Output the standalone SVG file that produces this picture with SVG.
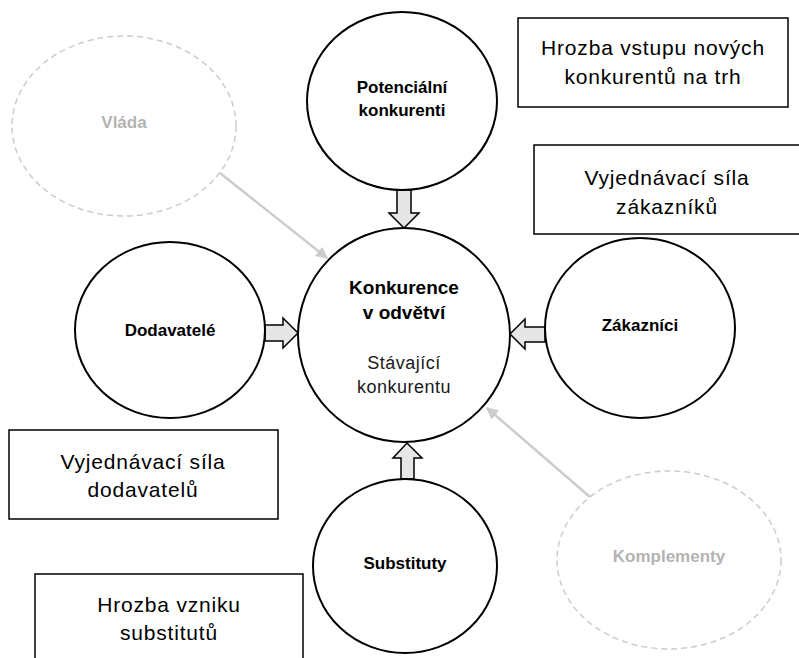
<svg xmlns="http://www.w3.org/2000/svg" width="799" height="658" viewBox="0 0 799 658">
  <style>
    .node { fill: #ffffff; stroke: #000000; stroke-width: 2; }
    .ghost { fill: #ffffff; stroke: #cccccc; stroke-width: 1.5; stroke-dasharray: 6 4; }
    .box { fill: #ffffff; stroke: #000000; stroke-width: 1.5; }
    .block { fill: #e6e6e6; stroke: #000000; stroke-width: 1.5; stroke-linejoin: miter; }
    .thin { stroke: #cccccc; stroke-width: 2.5; fill: none; }
    .lbl { font-family: "Liberation Sans", Arial, sans-serif; font-weight: bold; font-size: 17px; fill: #000000; text-anchor: middle; }
    .lbl-main { font-family: "Liberation Sans", Arial, sans-serif; font-weight: bold; font-size: 19px; fill: #000000; text-anchor: middle; }
    .lbl-ghost { font-family: "Liberation Sans", Arial, sans-serif; font-weight: bold; font-size: 17px; fill: #b3b3b3; text-anchor: middle; }
    .sub { font-family: "Liberation Sans", Arial, sans-serif; font-size: 18px; fill: #1a1a1a; text-anchor: middle; letter-spacing: 0.5px; }
    .note { font-family: "Liberation Sans", Arial, sans-serif; font-size: 21px; fill: #000000; text-anchor: middle; letter-spacing: 0.8px; }
  </style>
  <defs>
    <marker id="tip-grey" viewBox="0 0 10 10" refX="9" refY="5" markerWidth="12" markerHeight="12" markerUnits="userSpaceOnUse" orient="auto">
      <path d="M0,0 L10,5 L0,10 Z" fill="#cccccc"/>
    </marker>
  </defs>

  <!-- text boxes -->
  <g id="box-entry">
    <rect class="box" x="518" y="18" width="270" height="89"/>
    <text class="note" x="653" y="55">Hrozba vstupu nových</text>
    <text class="note" x="653" y="84">konkurentů na trh</text>
  </g>
  <g id="box-buyers">
    <rect class="box" x="534" y="145" width="270" height="89"/>
    <text class="note" x="667" y="185">Vyjednávací síla</text>
    <text class="note" x="667" y="214">zákazníků</text>
  </g>
  <g id="box-suppliers">
    <rect class="box" x="9" y="430" width="269" height="89"/>
    <text class="note" x="143" y="469">Vyjednávací síla</text>
    <text class="note" x="143" y="497">dodavatelů</text>
  </g>
  <g id="box-substitutes">
    <rect class="box" x="35" y="574" width="268" height="100"/>
    <text class="note" x="169" y="612">Hrozba vzniku</text>
    <text class="note" x="169" y="640">substitutů</text>
  </g>

  <!-- connectors -->
  <g id="connectors">
    <line class="thin" x1="220" y1="173" x2="327" y2="258" marker-end="url(#tip-grey)"/>
    <line class="thin" x1="590" y1="497" x2="487" y2="408" marker-end="url(#tip-grey)"/>
    <polygon class="block" points="397,190 411,190 411,213 419,213 404,228 389,213 397,213"/>
    <polygon class="block" points="265,325 283,325 283,318 298,333 283,348 283,341 265,341"/>
    <polygon class="block" points="545,327 525,327 525,319 510,334 525,349 525,342 545,342"/>
    <polygon class="block" points="401,479 401,458 393,458 407,443 422,458 414,458 414,479"/>
  </g>

  <!-- nodes -->
  <g id="node-government">
    <ellipse class="ghost" cx="124" cy="126" rx="112" ry="90"/>
    <text class="lbl-ghost" x="124" y="128">Vláda</text>
  </g>
  <g id="node-complements">
    <ellipse class="ghost" cx="669" cy="560" rx="112" ry="89"/>
    <text class="lbl-ghost" x="669" y="562">Komplementy</text>
  </g>
  <g id="node-entrants">
    <ellipse class="node" cx="402" cy="101" rx="95" ry="89"/>
    <text class="lbl" x="402" y="93">Potenciální</text>
    <text class="lbl" x="402" y="116">konkurenti</text>
  </g>
  <g id="node-rivalry">
    <ellipse class="node" cx="404" cy="335" rx="106" ry="107"/>
    <text class="lbl-main" x="404" y="294">Konkurence</text>
    <text class="lbl-main" x="404" y="319">v odvětví</text>
    <text class="sub" x="404" y="369">Stávající</text>
    <text class="sub" x="404" y="393">konkurentu</text>
  </g>
  <g id="node-suppliers">
    <ellipse class="node" cx="170" cy="330" rx="95" ry="88"/>
    <text class="lbl" x="170" y="336">Dodavatelé</text>
  </g>
  <g id="node-buyers">
    <ellipse class="node" cx="640" cy="328" rx="95" ry="90"/>
    <text class="lbl" x="640" y="331">Zákazníci</text>
  </g>
  <g id="node-substitutes">
    <ellipse class="node" cx="405" cy="566" rx="92" ry="87"/>
    <text class="lbl" x="405" y="569">Substituty</text>
  </g>
</svg>
